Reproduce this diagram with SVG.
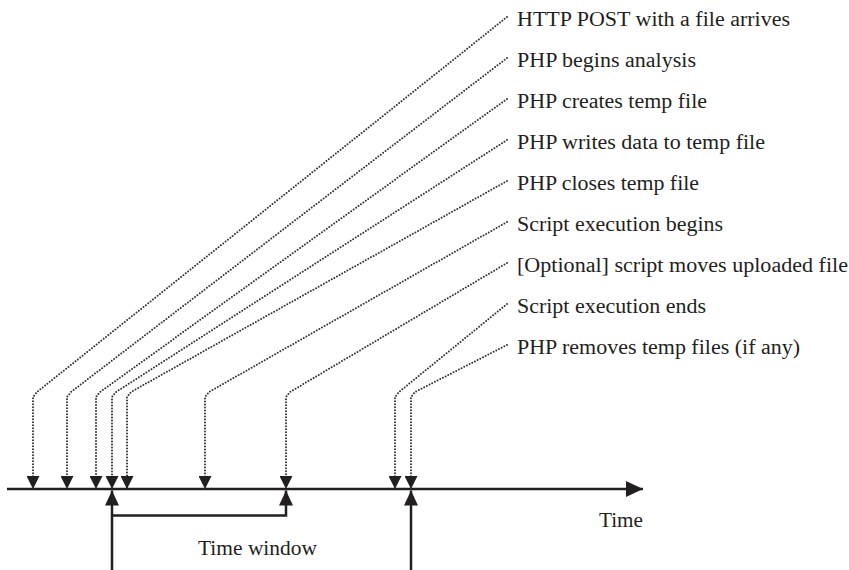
<svg xmlns="http://www.w3.org/2000/svg" width="849" height="570" viewBox="0 0 849 570">
<style>
.lbl{font-family:"Liberation Serif","Times New Roman",serif;font-size:20px;fill:#231f20}
.dot{fill:none;stroke:#333;stroke-width:2;stroke-dasharray:0 3;stroke-linecap:round;marker-end:url(#down)}
.solid{fill:none;stroke:#231f20;stroke-width:2.5;marker-end:url(#head)}
</style>
<defs>
<marker id="down" viewBox="0 0 13 13" markerUnits="userSpaceOnUse" markerWidth="13" markerHeight="13" refX="13" refY="6.5" orient="auto"><path d="M0,0 L13,6.5 L0,13 Z" fill="#231f20"/></marker>
<marker id="head" viewBox="0 0 15 14" markerUnits="userSpaceOnUse" markerWidth="15" markerHeight="14" refX="15" refY="7" orient="auto"><path d="M0,0 L15,7 L0,14 Z" fill="#231f20"/></marker>
<marker id="axishead" viewBox="0 0 17 16" markerUnits="userSpaceOnUse" markerWidth="17" markerHeight="16" refX="17" refY="8" orient="auto"><path d="M0,0 L17,8 L0,16 Z" fill="#231f20"/></marker>
</defs>
<g id="axis">
<path d="M7 489 H643" fill="none" stroke="#231f20" stroke-width="2.5" marker-end="url(#axishead)"/>
<text class="lbl" x="599" y="527" textLength="44" lengthAdjust="spacingAndGlyphs">Time</text>
</g>
<g id="time-window">
<text class="lbl" x="198" y="555" textLength="119" lengthAdjust="spacingAndGlyphs">Time window</text>
</g>
<g id="e1"><text class="lbl" x="517" y="26" textLength="273" lengthAdjust="spacingAndGlyphs">HTTP POST with a file arrives</text></g>
<g id="e2"><text class="lbl" x="517" y="67" textLength="179" lengthAdjust="spacingAndGlyphs">PHP begins analysis</text></g>
<g id="e3"><text class="lbl" x="517" y="108" textLength="190" lengthAdjust="spacingAndGlyphs">PHP creates temp file</text></g>
<g id="e4"><text class="lbl" x="517" y="149" textLength="248" lengthAdjust="spacingAndGlyphs">PHP writes data to temp file</text></g>
<g id="e5"><text class="lbl" x="517" y="190" textLength="182" lengthAdjust="spacingAndGlyphs">PHP closes temp file</text></g>
<g id="e6"><text class="lbl" x="517" y="231" textLength="206" lengthAdjust="spacingAndGlyphs">Script execution begins</text></g>
<g id="e7"><text class="lbl" x="517" y="272" textLength="331" lengthAdjust="spacingAndGlyphs">[Optional] script moves uploaded file</text></g>
<g id="e8"><text class="lbl" x="517" y="313" textLength="189" lengthAdjust="spacingAndGlyphs">Script execution ends</text></g>
<g id="e9"><text class="lbl" x="517" y="354" textLength="283" lengthAdjust="spacingAndGlyphs">PHP removes temp files (if any)</text></g>
<g id="connectors">
<path class="dot" d="M507 17 L37 392 L33 397 V489"/>
<path class="dot" d="M507 58 L71 392 L67 397 V489"/>
<path class="dot" d="M507 99 L100 392 L96 397 V489"/>
<path class="dot" d="M507 140 L116 392 L112 397 V489"/>
<path class="dot" d="M507 181 L131 392 L127 397 V489"/>
<path class="dot" d="M507 222 L209 392 L205 397 V489"/>
<path class="dot" d="M507 263 L290 392 L286 397 V489"/>
<path class="dot" d="M507 304 L399 392 L395 397 V489"/>
<path class="dot" d="M507 345 L415 392 L411 397 V489"/>
<path class="solid" d="M112 570 V490.5"/>
<path class="solid" d="M112 515.5 H286 V490.5"/>
<path class="solid" d="M411 570 V490.5"/>
</g>
</svg>
